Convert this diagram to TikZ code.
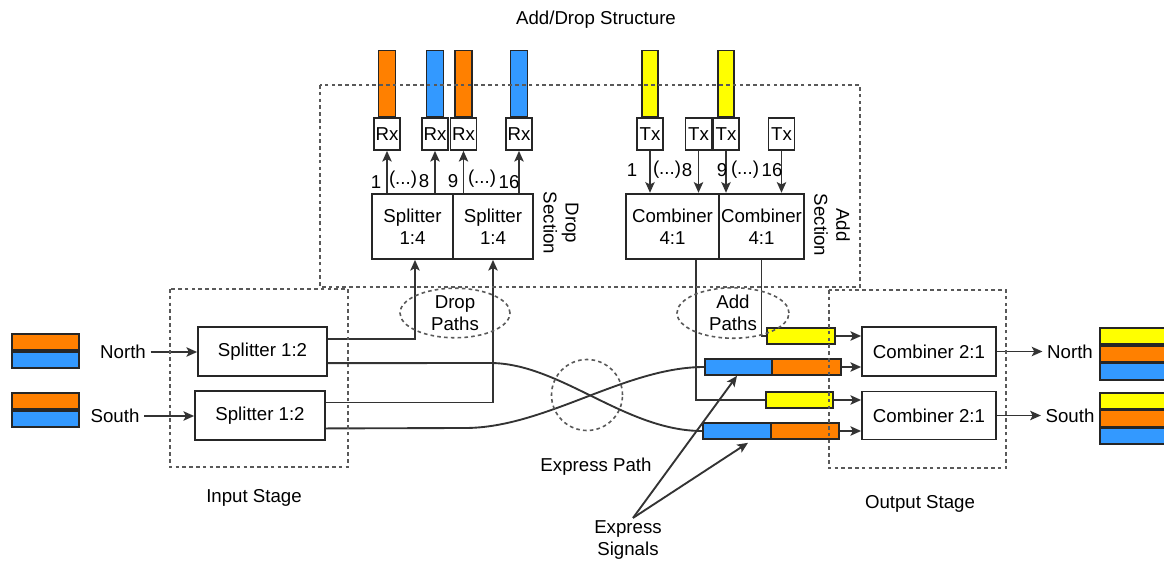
\documentclass[tikz,border=0pt]{standalone}
\usepackage{fontspec}
\setmainfont{Liberation Sans}
\usetikzlibrary{arrows.meta,calc,shapes.geometric}
\newlength\pxl \setlength\pxl{0.75pt}
\definecolor{orng}{HTML}{FF8000}
\definecolor{blu}{HTML}{3399FF}
\definecolor{ylw}{HTML}{FFFF00}
\begin{document}
\begin{tikzpicture}[x=0.75pt,y=-0.75pt,
  every node/.style={font=\fontsize{14}{16.5}\selectfont, text=black},
  box/.style={draw=black!85, line width=1.3pt, fill=white, inner sep=0pt, align=center},
  bar/.style={draw=black!85, line width=1.2pt, inner sep=0pt, minimum height=16\pxl},
  wire/.style={draw=black!80, line width=1.4pt},
  arr/.style={wire, -{Stealth[length=8pt,width=7pt,inset=1.8pt]}},
  region/.style={draw=black!65, line width=1.2pt, dash pattern=on 2.7pt off 2.4pt},
  lbl/.style={inner sep=1pt}]
\clip (0,0) rectangle (1164,563);
\fill[white] (0,0) rectangle (1164,563);

% ---------- title ----------
\node (title) at (596,20) {Add/Drop Structure};

% ---------- drop section: receivers ----------
\foreach \n/\x/\c in {1/387/orng,2/435/blu,3/463.5/orng,4/519/blu} {
  \node[box, minimum width=26\pxl, minimum height=32\pxl] (rx\n) at (\x,134) {Rx};
  \node[bar, fill=\c, minimum width=17\pxl, minimum height=66\pxl, anchor=south] (rxb\n) at (rx\n.north) {};
}
\node[box, minimum width=81\pxl, minimum height=65\pxl] (spA) at (412.5,226.5) {Splitter\\1:4};
\node[box, minimum width=80\pxl, minimum height=65\pxl] (spB) at (493,226.5) {Splitter\\1:4};
\foreach \n in {1,...,4} \draw[arr] (rx\n |- spA.north) -- (rx\n.south);
\node[lbl] (dl1) at (376,182) {1};
\node[lbl] (dl2) at (403,180) {(...)};
\node[lbl] (dl3) at (424,181) {8};
\node[lbl] (dl4) at (453,181) {9};
\node[lbl] (dl5) at (482,179) {(...)};
\node[lbl] (dl6) at (509,182) {16};
\node[rotate=-90, align=center] (dsec) at (561,223) {Drop\\Section};

% ---------- add section: transmitters ----------
\foreach \n/\x in {1/650,2/698.5,3/726,4/781.5}
  \node[box, minimum width=26\pxl, minimum height=32\pxl] (tx\n) at (\x,134) {Tx};
\node[bar, fill=ylw, minimum width=16\pxl, minimum height=66\pxl, anchor=south] (txb1) at (tx1.north) {};
\node[bar, fill=ylw, minimum width=16\pxl, minimum height=66\pxl, anchor=south] (txb3) at (tx3.north) {};
\node[box, minimum width=85\pxl, minimum height=65\pxl] (cbB) at (761.5,226.5) {Combiner\\4:1};
\node[box, line width=1.8pt, minimum width=93\pxl, minimum height=65\pxl] (cbA) at (672.5,226.5) {Combiner\\4:1};
\foreach \n in {1,...,4} \draw[arr] (tx\n.south) -- (tx\n |- cbA.north);
\node[lbl] (al1) at (632,170) {1};
\node[lbl] (al2) at (667,170) {(...)};
\node[lbl] (al3) at (687,170) {8};
\node[lbl] (al4) at (722,170) {9};
\node[lbl] (al5) at (745,170) {(...)};
\node[lbl] (al6) at (772,170) {16};
\node[rotate=-90, align=center] (asec) at (832,225) {Add\\Section};

% ---------- input stage ----------
\node[bar, fill=orng, minimum width=67\pxl, anchor=south] (inNo) at (45.5,351) {};
\node[bar, fill=blu, minimum width=67\pxl, anchor=north] (inNb) at (45.5,351) {};
\node[bar, fill=orng, minimum width=67\pxl, anchor=south] (inSo) at (45.5,410) {};
\node[bar, fill=blu, minimum width=67\pxl, anchor=north] (inSb) at (45.5,410) {};
\node (lnN) at (123,352) {North};
\node (lnS) at (115,416) {South};
\node[box, minimum width=129\pxl, minimum height=49\pxl] (spN) at (262.5,351.5) {Splitter 1:2};
\node[box, minimum width=130\pxl, minimum height=49\pxl] (spS) at (260,415.5) {Splitter 1:2};
\draw[arr] (lnN.east) -- (lnN.east -| spN.west);
\draw[arr] (lnS.east) -- (lnS.east -| spS.west);
\node (instage) at (254,498) {Input Stage};

% ---------- add/express bars feeding the output stage ----------
\node[bar, fill=ylw, minimum width=68\pxl] (yN) at (801,336) {};
\node[bar, fill=blu, minimum width=67\pxl] (bNb) at (738.5,367) {};
\node[bar, fill=orng, minimum width=69\pxl] (bNo) at (806.5,367) {};
\node[bar, fill=ylw, minimum width=67\pxl] (yS) at (799.5,400) {};
\node[bar, fill=blu, minimum width=68\pxl] (bSb) at (737,431) {};
\node[bar, fill=orng, minimum width=68\pxl] (bSo) at (805,431) {};

% ---------- splitter outputs: drop paths and express paths ----------
\coordinate (sN1) at ($(spN.north east)!0.25!(spN.south east)$);
\coordinate (sN2) at ($(spN.north east)!0.73!(spN.south east)$);
\coordinate (sS1) at ($(spS.north east)!0.245!(spS.south east)$);
\coordinate (sS2) at ($(spS.north east)!0.755!(spS.south east)$);
\draw[arr] (sN1) -| ([xshift=2.5\pxl]spA.south);
\draw[arr] (sS1) -| (spB.south);
\draw[wire] (sN2) -- (490,363) .. controls (560,363) and (625,431) .. (bSb.west);
\draw[wire] (sS2) -- (465,428) .. controls (545,428) and (625,367) .. (bNb.west);

% ---------- add paths ----------
\draw[wire] ([xshift=23.5\pxl]cbA.south) |- (yS.west);
\draw[wire] (cbB.south) |- (yN.west);

% ---------- output stage ----------
\node[box, minimum width=134\pxl, minimum height=49\pxl] (cN) at (929,351.5) {Combiner 2:1};
\node[box, minimum width=134\pxl, minimum height=48\pxl] (cS) at (929,415.5) {Combiner 2:1};
\draw[arr] (yN.east) -- (yN.east -| cN.west);
\draw[arr] (bNo.east) -- (bNo.east -| cN.west);
\draw[arr] (yS.east) -- (yS.east -| cS.west);
\draw[arr] (bSo.east) -- (bSo.east -| cS.west);
\node (onN) at (1070,352) {North};
\node (onS) at (1070,416) {South};
\draw[arr] (cN.east) -- (cN.east -| onN.west);
\draw[arr] (cS.east) -- (cS.east -| onS.west);
\node[bar, fill=ylw, minimum width=80\pxl, minimum height=16.3\pxl, anchor=north west] (oNy) at (1099,327) {};
\node[bar, fill=orng, minimum width=80\pxl, minimum height=16.3\pxl, anchor=north west] (oNo) at (oNy.south west) {};
\node[bar, fill=blu, minimum width=80\pxl, minimum height=16.3\pxl, anchor=north west] (oNb) at (oNo.south west) {};
\node[bar, fill=ylw, minimum width=80\pxl, minimum height=16\pxl, anchor=north west] (oSy) at (1099,392) {};
\node[bar, fill=orng, minimum width=80\pxl, minimum height=16\pxl, anchor=north west] (oSo) at (oSy.south west) {};
\node[bar, fill=blu, minimum width=80\pxl, minimum height=16\pxl, anchor=north west] (oSb) at (oSo.south west) {};
\node (outstage) at (920,504) {Output Stage};

% ---------- path annotations ----------
\node[region, ellipse, minimum width=110\pxl, minimum height=43\pxl, inner sep=0pt, align=center] (dpath) at (455,313) {Drop\\Paths};
\node[region, ellipse, minimum width=112\pxl, minimum height=48\pxl, inner sep=0pt, align=center] (apath) at (733,313) {Add\\Paths};
\node[region, circle, minimum size=71\pxl, inner sep=0pt] (xcirc) at (587,395) {};
\node (xpath) at (596,467) {Express Path};
\node[align=center] (xsig) at (628,540) {Express\\Signals};
\coordinate (xsigtop) at ([xshift=5\pxl,yshift=-2\pxl]xsig.north);
\draw[arr] (xsigtop) -- ([xshift=-1.5\pxl]bNb.south);
\draw[arr] (xsigtop) -- ([xshift=11\pxl,yshift=-3\pxl]bSb.south);

% ---------- dashed stage outlines ----------
\draw[region] (320,85) rectangle (860,287);
\draw[region] (170,289) rectangle (348,467);
\draw[region] (829,290) rectangle (1006,468);
\end{tikzpicture}
\end{document}
